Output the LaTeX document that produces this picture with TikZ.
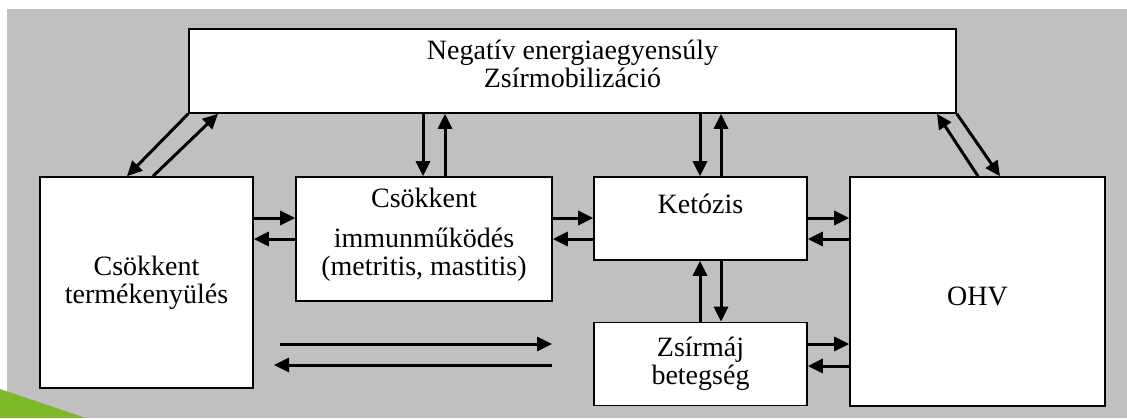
\documentclass[tikz,border=0pt]{standalone}
\usepackage{fontspec}
\setmainfont{Liberation Serif}
\usepackage{tikz}
\usetikzlibrary{arrows.meta, positioning}
\definecolor{BgGray}   {RGB}{192, 192, 192}
\definecolor{LeafGreen}{RGB}{125, 185,  40}

\begin{document}
\begin{tikzpicture}[x=1pt, y=-1pt, >={Triangle[length=15pt, width=14pt]},
  bx/.style={draw=black, fill=white, line width=1.6pt, inner sep=2pt,
             align=center, font=\fontsize{28}{28}\selectfont},
  ar/.style={->, line width=3pt}
]
  \useasboundingbox (0,0) rectangle (1127,418);

  %% Background
  \fill[white] (0,0) rectangle (1127,418);
  \fill[BgGray] (7,9) rectangle (1127,418);
  \fill[LeafGreen] (0,389) -- (86,418) -- (0,418) -- cycle;

  %% Boxes
  \node[bx, minimum width=767pt, minimum height=84pt, text depth=14pt] (NEB) at (572.5,71)
    {Negatív energiaegyensúly\\Zsírmobilizáció};
  \node[bx, minimum width=213pt, minimum height=211pt] (TERM) at (146.5,282.5)
    {Csökkent\\termékenyülés};
  \node[bx, minimum width=256pt, minimum height=124pt, text depth=14pt] (IMM) at (424,239)
    {Csökkent\\[12pt]immunműködés\\(metritis, mastitis)};
  \node[bx, minimum width=213pt, minimum height=83pt,
        label={[font=\fontsize{28}{28}\selectfont, anchor=north, inner sep=2pt,
                yshift=-16pt]north:Ketózis}] (KET) at (700.5,218.5) {};
  \node[bx, minimum width=213pt, minimum height=83pt]  (ZSM)  at (700.5,364)
    {Zsírmáj\\betegség};
  \node[bx, minimum width=255pt, minimum height=229pt, text height=28pt] (OHV) at (977.5,291.5)
    {OHV};

  %% Free ends of the bottom pair
  \coordinate (botA) at (280,344);
  \coordinate (botB) at (552,344);
  \coordinate (botC) at (552,365);
  \coordinate (botD) at (274,365);

  %% NEB <-> TERM
  \draw[ar] (NEB.south west) -- (TERM.north -| 127,0);
  \draw[ar] (TERM.north -| 153,0) -- (NEB.south -| 218,0);

  %% NEB <-> IMM
  \draw[ar] (NEB.south -| 423,0) -- (IMM.north -| 423,0);
  \draw[ar] (IMM.north -| 445,0) -- (NEB.south -| 445,0);

  %% NEB <-> KET
  \draw[ar] (NEB.south -| 700,0) -- (KET.north -| 700,0);
  \draw[ar] (KET.north -| 721,0) -- (NEB.south -| 721,0);

  %% NEB <-> OHV
  \draw[ar] (OHV.north -| 978,0) -- (NEB.south -| 937,0);
  \draw[ar] (NEB.south east) -- (OHV.north -| 1000,0);

  %% TERM <-> IMM
  \draw[ar] (TERM.east |- 0,218) -- (IMM.west |- 0,218);
  \draw[ar] (IMM.west |- 0,239) -- (TERM.east |- 0,239);

  %% IMM <-> KET
  \draw[ar] (IMM.east |- 0,218) -- (KET.west |- 0,218);
  \draw[ar] (KET.west |- 0,239) -- (IMM.east |- 0,239);

  %% KET <-> OHV
  \draw[ar] (KET.east |- 0,218) -- (OHV.west |- 0,218);
  \draw[ar] (OHV.west |- 0,239) -- (KET.east |- 0,239);

  %% KET <-> ZSM
  \draw[ar] (KET.south -| 721,0) -- (ZSM.north -| 721,0);
  \draw[ar] (ZSM.north -| 700,0) -- (KET.south -| 700,0);

  %% ZSM <-> OHV
  \draw[ar] (ZSM.east |- 0,344) -- (OHV.west |- 0,344);
  \draw[ar] (OHV.west |- 0,366) -- (ZSM.east |- 0,366);

  %% TERM <-> ZSM (free arrows)
  \draw[ar] (botA) -- (botB);
  \draw[ar] (botC) -- (botD);
\end{tikzpicture}
\end{document}
